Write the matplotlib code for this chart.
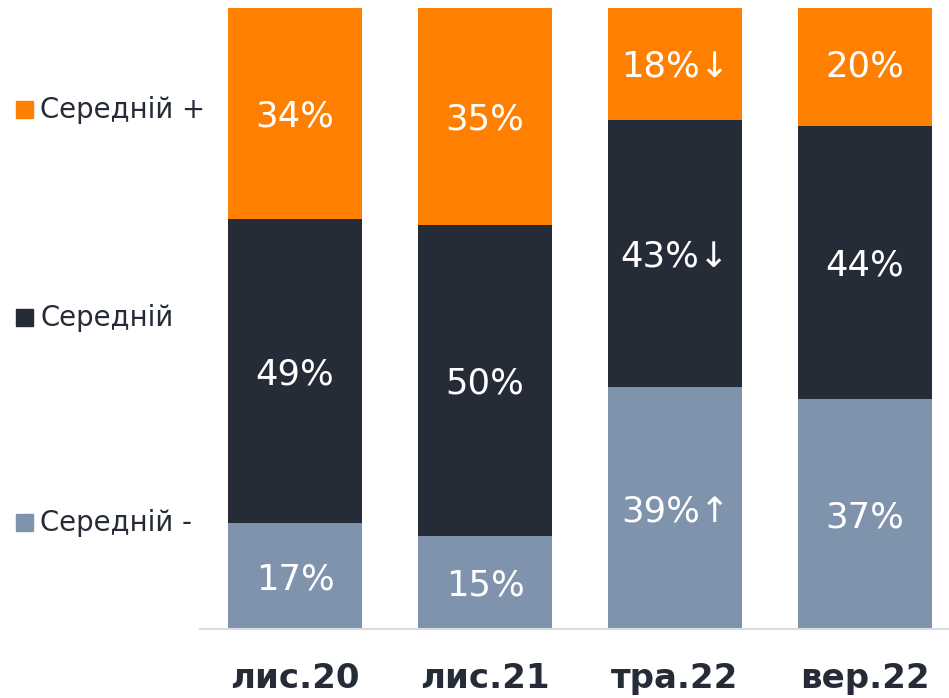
import matplotlib.pyplot as plt

# дані
categories = ['лис.20', 'лис.21', 'тра.22', 'вер.22']
series_names = ['Середній -', 'Середній', 'Середній +']
low = [17, 15, 39, 37]
mid = [49, 50, 43, 44]
high = [34, 35, 18, 20]
low_labels = ['17%', '15%', '39%↑', '37%']
mid_labels = ['49%', '50%', '43%↓', '44%']
high_labels = ['34%', '35%', '18%↓', '20%']

colors = ['#7F93AD', '#252B37', '#FF8000']
text_color = '#252B37'

plt.rcParams['font.family'] = ['DejaVu Sans']

fig = plt.figure(figsize=(9.49, 6.98), dpi=100)
ax = fig.add_axes([200 / 949, 1 - 629 / 698, 749 / 949, 621 / 698])

x = list(range(len(categories)))
width = 0.71
bottoms = [0] * len(categories)
for vals, labels, col in zip([low, mid, high], [low_labels, mid_labels, high_labels], colors):
    ax.bar(x, vals, width, bottom=bottoms, color=col, zorder=2)
    for i in x:
        yc = bottoms[i] + vals[i] / 2 - 0.5
        ax.text(i, yc, labels[i], ha='center', va='center', color='white', fontsize=25.5)
    bottoms = [b + v for b, v in zip(bottoms, vals)]

ax.set_xlim(-0.5, -0.5 + 749 / 190)
ax.set_ylim(0, 100)
ax.set_xticks(x)
ax.set_xticklabels(categories, fontsize=24.5, fontweight='bold', color=text_color)
ax.tick_params(axis='x', length=0, pad=24)
ax.set_yticks([])
for s in ['top', 'right', 'left']:
    ax.spines[s].set_visible(False)
ax.spines['bottom'].set_color('#D9DDE3')
ax.spines['bottom'].set_linewidth(1.5)

# легенда зліва
legend_y = [523, 318, 110]
for name, col, yy in zip(series_names, colors, legend_y):
    fy = 1 - yy / 698
    fig.patches.append(plt.Rectangle((16 / 949, fy - 8 / 698), 17 / 949, 17 / 698,
                                     transform=fig.transFigure, color=col, figure=fig))
    fig.text(40 / 949, fy, name, ha='left', va='center', fontsize=19.8, color=text_color)

fig.savefig('out.png', dpi=100)
